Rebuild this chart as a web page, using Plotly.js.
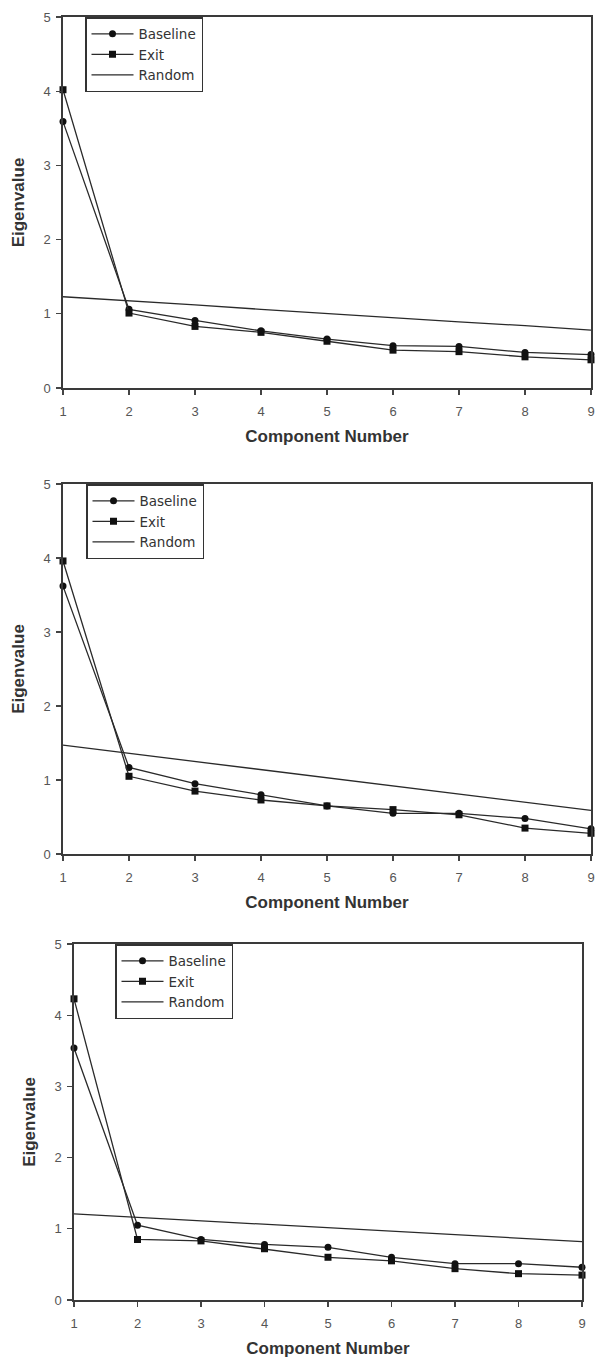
<!DOCTYPE html>
<html>
<head>
<meta charset="utf-8">
<script src="https://cdn.plot.ly/plotly-3.0.1.min.js"></script>
<style>html,body{margin:0;padding:0;background:#fff;}#chart{width:600px;height:1359px;}</style>
</head>
<body>
<div id="chart"></div>
<script>
// Data
const components = [1, 2, 3, 4, 5, 6, 7, 8, 9];
const tickLabelsX = ['1', '2', '3', '4', '5', '6', '7', '8', '9'];
const tickLabelsY = ['0', '1', '2', '3', '4', '5'];

const baseline1 = [3.59, 1.06, 0.91, 0.77, 0.66, 0.57, 0.56, 0.48, 0.45];
const exit1     = [4.02, 1.01, 0.83, 0.75, 0.63, 0.51, 0.49, 0.42, 0.38];
const random1   = [1.23, 1.17, 1.12, 1.06, 1.00, 0.95, 0.89, 0.84, 0.78];

const baseline2 = [3.62, 1.17, 0.95, 0.80, 0.65, 0.55, 0.55, 0.48, 0.34];
const exit2     = [3.96, 1.05, 0.85, 0.73, 0.65, 0.60, 0.53, 0.35, 0.28];
const random2   = [1.47, 1.36, 1.25, 1.14, 1.03, 0.92, 0.81, 0.70, 0.59];

const baseline3 = [3.54, 1.05, 0.85, 0.78, 0.74, 0.60, 0.51, 0.51, 0.46];
const exit3     = [4.23, 0.85, 0.83, 0.72, 0.60, 0.55, 0.44, 0.37, 0.35];
const random3   = [1.21, 1.16, 1.11, 1.06, 1.01, 0.97, 0.92, 0.87, 0.82];

const panels = [
  {b: baseline1, e: exit1, r: random1, xa: 'x',  ya: 'y',  lg: 'legend'},
  {b: baseline2, e: exit2, r: random2, xa: 'x2', ya: 'y2', lg: 'legend2'},
  {b: baseline3, e: exit3, r: random3, xa: 'x3', ya: 'y3', lg: 'legend3'}
];

const W = 600, H = 1359;
const lineCol = '#2a2a2a';
const FONT = 'Liberation Sans, Arial, sans-serif';
const LFONT = 'DejaVu Sans, Liberation Sans, sans-serif';
const traces = [];
panels.forEach(p => {
  traces.push({x: components, y: p.b, xaxis: p.xa, yaxis: p.ya, legend: p.lg, name: 'Baseline',
    mode: 'lines+markers', line: {color: lineCol, width: 1.3},
    marker: {symbol: 'circle', size: 7, color: '#111'}, cliponaxis: false});
  traces.push({x: components, y: p.e, xaxis: p.xa, yaxis: p.ya, legend: p.lg, name: 'Exit',
    mode: 'lines+markers', line: {color: lineCol, width: 1.3},
    marker: {symbol: 'square', size: 7, color: '#111'}, cliponaxis: false});
  traces.push({x: components, y: p.r, xaxis: p.xa, yaxis: p.ya, legend: p.lg, name: 'Random',
    mode: 'lines', line: {color: lineCol, width: 1.3}, cliponaxis: false});
});

// panel geometry in pixels: [left, right, top, bottom]
const geo = [[63, 591, 17, 388], [63, 591, 484, 854], [74, 582, 944, 1300]];
const legPos = [[85, 17], [86, 484], [115, 944]];

function xAxis(i) {
  const g = geo[i];
  return {
    domain: [g[0] / W, g[1] / W], range: [1, 9], anchor: i === 0 ? 'y' : 'y' + (i + 1),
    tickvals: components, ticktext: tickLabelsX, ticks: 'outside', ticklen: 5, tickwidth: 1.2,
    tickcolor: '#444', showline: true, linecolor: '#3a3a3a', linewidth: 1.6, mirror: true,
    showgrid: false, zeroline: false, ticklabelstandoff: 6,
    tickfont: {family: FONT, size: 13, color: '#555'},
    title: {text: 'Component Number', standoff: 12,
      font: {family: FONT, size: 17, color: '#333', weight: 'bold'}}
  };
}
function yAxis(i) {
  const g = geo[i];
  return {
    domain: [1 - g[3] / H, 1 - g[2] / H], range: [0, 5], anchor: i === 0 ? 'x' : 'x' + (i + 1),
    tickvals: [0, 1, 2, 3, 4, 5], ticktext: tickLabelsY, ticks: 'outside', ticklen: 5, tickwidth: 1.2,
    tickcolor: '#444', showline: true, linecolor: '#3a3a3a', linewidth: 1.6, mirror: true,
    showgrid: false, zeroline: false, ticklabelstandoff: 3,
    tickfont: {family: FONT, size: 13, color: '#555'},
    title: {text: 'Eigenvalue', standoff: 14,
      font: {family: FONT, size: 17, color: '#333', weight: 'bold'}}
  };
}
function legend(i) {
  return {
    x: legPos[i][0] / W, y: 1 - legPos[i][1] / H, xanchor: 'left', yanchor: 'top',
    bgcolor: '#fff', bordercolor: '#333', borderwidth: 1.5,
    font: {family: LFONT, size: 13.5, color: '#333'},
    traceorder: 'normal', itemwidth: 42, tracegroupgap: 0
  };
}

const layout = {
  width: W, height: H, margin: {l: 0, r: 0, t: 0, b: 0},
  paper_bgcolor: '#fff', plot_bgcolor: '#fff', showlegend: true,
  xaxis: xAxis(0), yaxis: yAxis(0), xaxis2: xAxis(1), yaxis2: yAxis(1), xaxis3: xAxis(2), yaxis3: yAxis(2),
  legend: legend(0), legend2: legend(1), legend3: legend(2)
};

Plotly.newPlot('chart', traces, layout, {staticPlot: true, displayModeBar: false});
</script>
</body>
</html>
